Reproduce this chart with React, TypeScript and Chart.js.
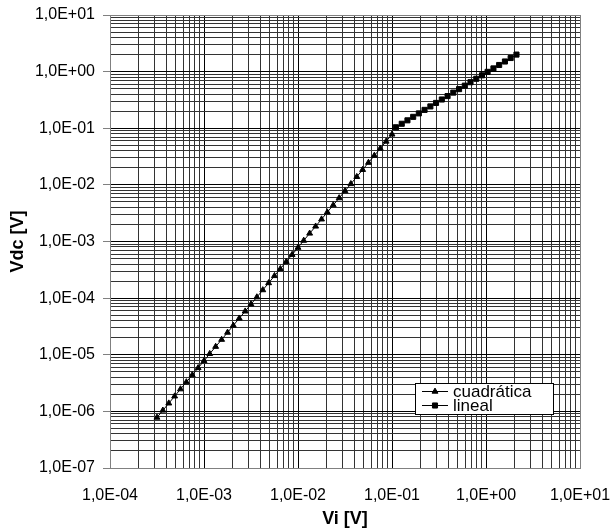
import React, { useEffect, useRef } from 'react';
import { Chart, registerables } from 'chart.js';

Chart.register(...registerables);

const quadLabel = 'cuadrática';
const linLabel = 'lineal';

const quadX = [
  3.16e-4, 3.65e-4, 4.22e-4, 4.87e-4, 5.62e-4, 6.49e-4, 7.5e-4, 8.66e-4,
  1.0e-3, 1.15e-3, 1.33e-3, 1.54e-3, 1.78e-3, 2.05e-3, 2.37e-3, 2.74e-3,
  3.16e-3, 3.65e-3, 4.22e-3, 4.87e-3, 5.62e-3, 6.49e-3, 7.5e-3, 8.66e-3,
  1.0e-2, 1.15e-2, 1.33e-2, 1.54e-2, 1.78e-2, 2.05e-2, 2.37e-2, 2.74e-2,
  3.16e-2, 3.65e-2, 4.22e-2, 4.87e-2, 5.62e-2, 6.49e-2, 7.5e-2, 8.66e-2,
  1.0e-1,
];
const quadY = [
  7.8e-7, 1.04e-6, 1.39e-6, 1.85e-6, 2.47e-6, 3.29e-6, 4.39e-6, 5.85e-6,
  7.8e-6, 1.04e-5, 1.39e-5, 1.85e-5, 2.47e-5, 3.29e-5, 4.39e-5, 5.85e-5,
  7.8e-5, 1.04e-4, 1.39e-4, 1.85e-4, 2.47e-4, 3.29e-4, 4.39e-4, 5.85e-4,
  7.8e-4, 1.04e-3, 1.39e-3, 1.85e-3, 2.47e-3, 3.29e-3, 4.39e-3, 5.85e-3,
  7.8e-3, 1.04e-2, 1.39e-2, 1.85e-2, 2.47e-2, 3.29e-2, 4.39e-2, 5.85e-2,
  7.8e-2,
];

const linX = [
  0.11, 0.127, 0.146, 0.168, 0.193, 0.222, 0.256, 0.294, 0.339, 0.39, 0.449,
  0.517, 0.595, 0.684, 0.788, 0.907, 1.04, 1.2, 1.38, 1.59, 1.83, 2.11,
];
const linY = [
  0.104, 0.12, 0.138, 0.159, 0.183, 0.211, 0.243, 0.28, 0.322, 0.37, 0.426,
  0.491, 0.565, 0.65, 0.748, 0.861, 0.991, 1.14, 1.31, 1.51, 1.74, 2.0,
];

const xDecades = [1e-4, 1e-3, 1e-2, 1e-1, 1e0, 1e1];
const xTickLabels = ['1,0E-04', '1,0E-03', '1,0E-02', '1,0E-01', '1,0E+00', '1,0E+01'];
const yDecades = [1e-7, 1e-6, 1e-5, 1e-4, 1e-3, 1e-2, 1e-1, 1e0, 1e1];
const yTickLabels = [
  '1,0E-07', '1,0E-06', '1,0E-05', '1,0E-04', '1,0E-03', '1,0E-02', '1,0E-01', '1,0E+00', '1,0E+01',
];
const minorMultipliers = [2, 3, 4, 5, 6, 7, 8, 9];

const xTitle = 'Vi [V]';
const yTitle = 'Vdc [V]';

const FONT = "'Liberation Sans', Arial, sans-serif";

function buildTicks(decades: number[]): number[] {
  const out: number[] = [];
  decades.forEach((d, i) => {
    out.push(d);
    if (i < decades.length - 1) minorMultipliers.forEach((m) => out.push(d * m));
  });
  return out;
}

function findDecade(decades: number[], v: number): number {
  for (let i = 0; i < decades.length; i++) {
    if (Math.abs(v - decades[i]) <= decades[i] * 1e-6) return i;
  }
  return -1;
}

function drawMarker(ctx: CanvasRenderingContext2D, style: string, x: number, y: number, r: number) {
  ctx.beginPath();
  if (style === 'triangle') {
    const a = (2 * Math.PI) / 3;
    ctx.moveTo(x, y - r);
    ctx.lineTo(x + Math.sin(a) * r, y - Math.cos(a) * r);
    ctx.lineTo(x + Math.sin(2 * a) * r, y - Math.cos(2 * a) * r);
    ctx.closePath();
  } else {
    const s = Math.SQRT1_2 * r;
    ctx.rect(x - s, y - s, 2 * s, 2 * s);
  }
  ctx.fill();
  ctx.stroke();
}

const legendPlugin = {
  id: 'insideLegend',
  afterDraw(chart: any) {
    const { ctx, chartArea } = chart;
    const left = chartArea.right - 165;
    const right = chartArea.right - 27;
    const bottom = chartArea.bottom - 54;
    const top = bottom - 31;
    ctx.save();
    ctx.fillStyle = '#ffffff';
    ctx.fillRect(left, top, right - left, bottom - top);
    ctx.strokeStyle = '#000000';
    ctx.lineWidth = 1;
    ctx.strokeRect(Math.round(left) + 0.5, Math.round(top) + 0.5, right - left, bottom - top);
    const rows = chart.data.datasets.map((ds: any, i: number) => ({
      label: ds.label,
      style: ds.pointStyle,
      r: ds.pointRadius,
      y: top + 8 + i * 14,
    }));
    ctx.font = `17px ${FONT}`;
    ctx.textBaseline = 'middle';
    ctx.textAlign = 'left';
    rows.forEach((row: any) => {
      ctx.strokeStyle = '#000';
      ctx.fillStyle = '#000';
      ctx.lineWidth = 1;
      ctx.beginPath();
      ctx.moveTo(left + 7, Math.round(row.y) + 0.5);
      ctx.lineTo(left + 33, Math.round(row.y) + 0.5);
      ctx.stroke();
      drawMarker(ctx, row.style, left + 20, Math.round(row.y) + 0.5, row.r);
      ctx.fillText(row.label, left + 38, row.y + 1);
    });
    ctx.restore();
  },
};

function gridColor(decades: number[]) {
  return (c: any) => {
    const v = c.tick ? c.tick.value : 0;
    const last = decades[decades.length - 1];
    if (Math.abs(v - last) <= last * 1e-6) return '#808080';
    if (findDecade(decades, v) >= 0) return '#000000';
    return '#333333';
  };
}

export default function App() {
  const canvasRef = useRef<HTMLCanvasElement | null>(null);

  useEffect(() => {
    document.body.style.margin = '0';
    const canvas = canvasRef.current;
    if (!canvas) return;
    const xTicks = buildTicks(xDecades);
    const yTicks = buildTicks(yDecades);

    const chart = new Chart(canvas, {
      type: 'scatter',
      data: {
        datasets: [
          {
            label: quadLabel,
            data: quadX.map((x, i) => ({ x, y: quadY[i] })),
            showLine: true,
            borderColor: '#000',
            backgroundColor: '#000',
            borderWidth: 1,
            pointStyle: 'triangle',
            pointRadius: 3.4,
            pointBorderWidth: 1,
            pointBackgroundColor: '#000',
            pointBorderColor: '#000',
          },
          {
            label: linLabel,
            data: linX.map((x, i) => ({ x, y: linY[i] })),
            showLine: true,
            borderColor: '#000',
            backgroundColor: '#000',
            borderWidth: 1,
            pointStyle: 'rect',
            pointRadius: 3.6,
            pointBorderWidth: 1,
            pointBackgroundColor: '#000',
            pointBorderColor: '#000',
          },
        ],
      },
      options: {
        animation: false,
        responsive: false,
        devicePixelRatio: 1,
        layout: { padding: { top: 15, right: 31, left: 0, bottom: 0 } },
        plugins: {
          legend: { display: false },
          tooltip: { enabled: false },
        },
        scales: {
          x: {
            type: 'logarithmic',
            min: 1e-4,
            max: 10,
            afterBuildTicks: (s: any) => {
              s.ticks = xTicks.map((v) => ({ value: v }));
            },
            afterFit: (s: any) => {
              s.height = 63;
              s.paddingLeft = 0;
              s.paddingRight = 0;
            },
            ticks: {
              autoSkip: false,
              maxRotation: 0,
              padding: 18,
              color: '#000',
              font: { family: FONT, size: 16 },
              callback: (v: any) => {
                const i = findDecade(xDecades, Number(v));
                return i >= 0 ? xTickLabels[i] : '';
              },
            },
            grid: {
              drawTicks: false,
              lineWidth: 1,
              color: gridColor(xDecades),
            },
            border: { color: '#808080', width: 1 },
            title: {
              display: true,
              text: xTitle,
              color: '#000',
              font: { family: FONT, size: 18, weight: 'bold' },
              padding: { top: 0, bottom: 1 },
            },
          },
          y: {
            type: 'logarithmic',
            min: 1e-7,
            max: 10,
            afterBuildTicks: (s: any) => {
              s.ticks = yTicks.map((v) => ({ value: v }));
            },
            afterFit: (s: any) => {
              s.width = 110;
              s.paddingTop = 0;
              s.paddingBottom = 0;
            },
            ticks: {
              autoSkip: false,
              padding: 8,
              color: '#000',
              font: { family: FONT, size: 16 },
              callback: (v: any) => {
                const i = findDecade(yDecades, Number(v));
                return i >= 0 ? yTickLabels[i] : '';
              },
            },
            grid: {
              drawTicks: true,
              tickLength: 7,
              lineWidth: 1,
              color: gridColor(yDecades),
              tickColor: (c: any) =>
                c.tick && findDecade(yDecades, c.tick.value) >= 0 ? '#808080' : 'rgba(0,0,0,0)',
            },
            border: { color: '#808080', width: 1 },
            title: {
              display: true,
              text: yTitle,
              color: '#000',
              font: { family: FONT, size: 18, weight: 'bold' },
              padding: { top: 7, bottom: 0 },
            },
          },
        },
      } as any,
      plugins: [legendPlugin],
    });
    return () => chart.destroy();
  }, []);

  return (
    <div style={{ width: 611, height: 531, background: '#fff' }}>
      <canvas ref={canvasRef} width={611} height={531} style={{ display: 'block' }} />
    </div>
  );
}
